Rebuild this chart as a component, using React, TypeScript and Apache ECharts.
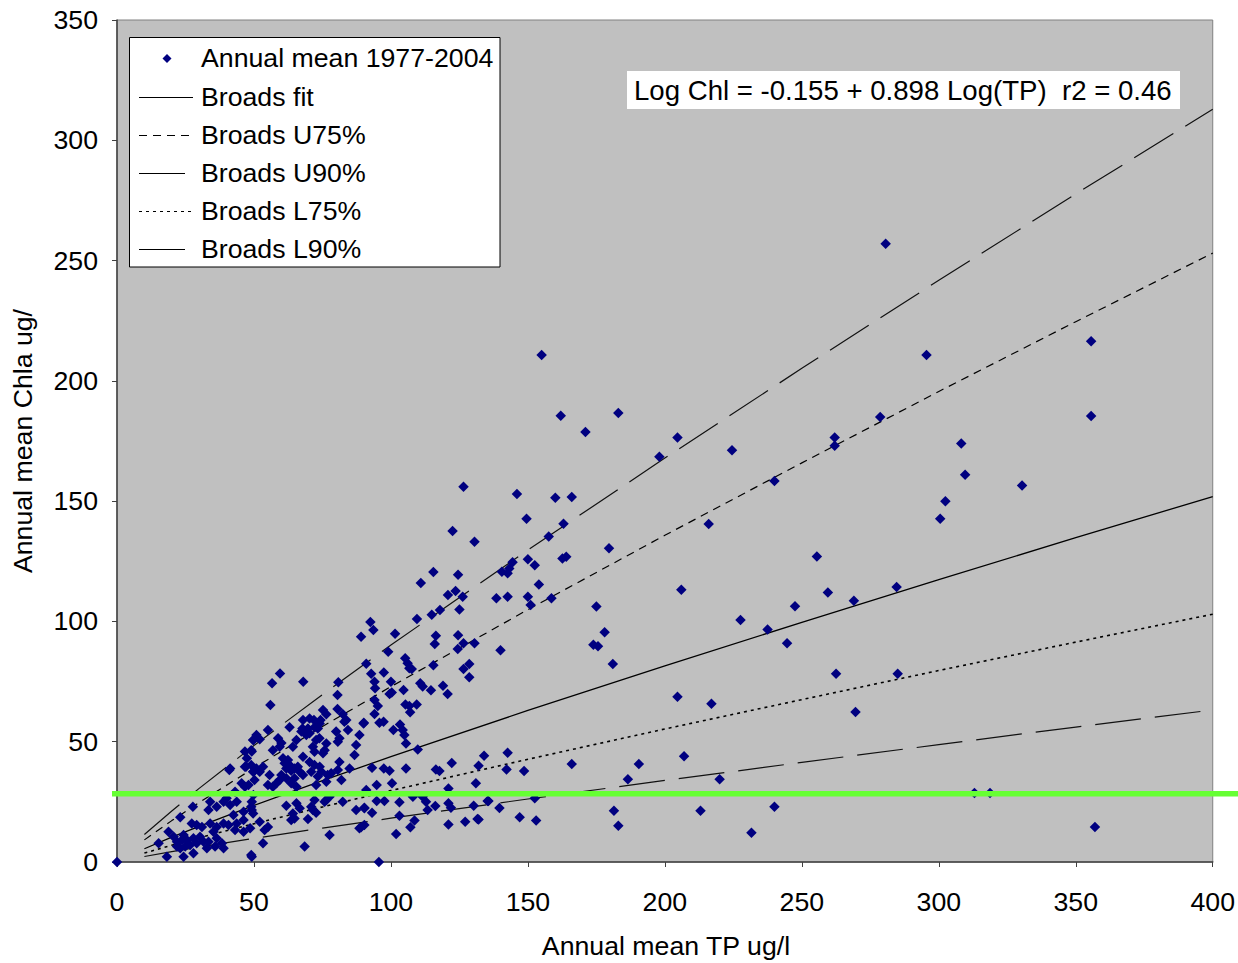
import React, { useEffect, useRef } from "react";
import * as echarts from "echarts";

// ---------- data ----------
const xTicks = [0, 50, 100, 150, 200, 250, 300, 350, 400];
const yTicks = [0, 50, 100, 150, 200, 250, 300, 350];

// Annual mean TP (ug/l) vs annual mean Chla (ug/l), 1977-2004
const annualMean: number[][] = [
  [280.6, 257], [295.5, 210.7], [278.6, 185], [355.6, 216.5], [355.6, 185.4], [308.2, 174], [309.6, 161],
  [302.4, 150], [300.5, 142.7], [330.4, 156.5], [284.6, 114.3], [285, 78.3], [313, 28.7], [318.7, 28.7], [357, 14.5],
  [198, 168.5], [204.6, 176.5], [224.5, 171.2], [262, 176.5], [262, 173], [240, 158.4], [216, 140.5], [255.5, 127],
  [206, 113.2], [259.5, 112], [269, 108.6], [247.5, 106.3], [227.6, 100.6], [237.5, 96.6], [244.6, 90.9], [262.5, 78.3],
  [204.6, 68.7], [217, 65.8], [269.6, 62.3], [190.5, 40.7], [207, 44], [220, 34.4], [213, 21.3], [240, 23], [231.6, 12.2],
  [179.6, 130.4], [150, 125.8], [152.5, 123.4], [162.6, 126.2], [164, 126.9], [144.4, 124.6], [143.2, 122], [142.6, 120],
  [140.5, 120.7], [154, 115.4], [138.5, 109.6], [142.6, 110.3], [150, 110.3], [151, 106.8], [158.6, 109.6], [175, 106.2],
  [178, 95.5], [173.9, 90.3], [175.6, 89.7], [181, 82.3], [140, 88], [134, 44.2], [142.6, 45.4], [142.2, 38.5],
  [148.6, 37.8], [166, 40.7], [186.5, 34.4], [135.6, 25.4], [139.6, 22.4], [152.5, 26.5], [132, 17.7], [147, 18.6],
  [153, 17.2], [181.4, 21.3], [183, 15.1],
  [155, 210.7], [162, 185.5], [171, 178.7], [183, 186.6], [126.5, 156], [146, 153], [160, 151.4], [166, 151.7],
  [149.5, 142.7], [122.5, 137.6], [130.5, 133.1], [157.6, 135.3], [163, 140.6],
  [115.5, 120.5], [124.5, 119.4], [110.9, 116], [120.8, 111], [123.6, 112.6], [126.2, 110.3], [117.9, 104.7], [114.9, 102.8],
  [125, 105], [109.5, 101], [92.5, 99.8], [93.6, 96.4], [89.1, 93.6], [101.5, 94.9], [116.4, 94], [116, 90.6],
  [124.5, 94.3], [126.5, 90.9], [130.5, 90.9], [124.4, 88.5], [99, 87.4], [105.2, 84.7], [106.1, 82.6], [106.7, 80.5],
  [107.6, 80.2], [115.5, 81.8], [128.6, 82.3], [126.5, 80.2], [128.6, 76.8], [91, 82.4], [92.8, 78.3], [97.4, 78.8],
  [94, 74.9], [94.2, 72.2], [100, 74.9], [100.3, 70.5], [99.5, 69.8], [104.6, 71.5], [110.7, 74.3], [111.6, 72.9],
  [114.6, 71.4], [119, 73.3], [120.7, 69.8], [94, 67.3], [95.2, 64.8], [94, 61.5], [105.3, 65.5], [106.7, 64.8],
  [109.4, 65.5], [107, 62.2], [90.1, 57.9], [88.5, 52.8], [95.8, 57.9], [97.3, 58.3], [100.9, 54.9], [103.3, 57.2],
  [104.3, 54.9], [104.9, 52.8], [105.5, 49.3], [109.8, 46.8], [93.1, 39.2], [97.4, 38.9], [99.5, 37.9], [105.5, 38.9],
  [116.4, 38.5], [117.7, 37.8], [122.2, 41.2], [132, 40], [131, 32.7], [100.4, 32.7], [121, 30.6], [94.8, 32],
  [91, 29.9], [108, 27.1], [111.6, 27.1], [94.8, 25.4], [97.6, 25.4], [103.1, 24.8], [112.8, 25], [113.4, 21.6],
  [116.2, 23.3], [121, 24.4], [121.9, 22.6], [130.2, 23.4], [135.3, 25.4], [90.3, 22.6], [93.1, 20.5], [103.1, 19.2],
  [108.6, 17.2], [107.1, 14.4], [121, 15.6], [127.1, 16.7], [131.6, 17.9], [89.1, 14.4], [101.9, 11.6], [95.6, 0],
  [59.5, 78.4], [56.6, 74.3], [68, 74.9], [80.8, 74.7], [56, 65.3], [80.5, 69.4], [80.5, 63.6], [82.4, 61.5],
  [83.7, 59], [75.2, 63.2], [76.4, 61.4], [74.3, 59], [67.9, 59], [70.3, 59.7], [71.9, 59], [74, 57.6],
  [73.3, 55.5], [72.1, 56], [69.7, 55.5], [67.7, 55.5], [67.3, 54.2], [69.1, 52.8], [70.3, 53.5], [63, 56],
  [55.1, 54.9], [90, 57.6], [83, 58.3], [84.3, 54.9], [80, 54.2], [81.2, 51.4], [80.6, 50], [87.3, 48.6],
  [86.7, 44.5], [76.4, 49.3], [75.8, 46.5], [75.2, 45.2], [72.7, 50.7], [73.9, 51.4], [71.5, 47.9], [72.1, 45.8],
  [65.5, 50.7], [64.2, 47.9], [58.8, 51.4], [59.4, 47.9], [60, 49.5], [56.9, 46.5], [50.9, 52.8], [49.7, 50.7],
  [52.1, 51], [49, 46.5], [67.9, 43.8], [60.6, 43.1], [62.4, 42.4], [61.2, 41], [63, 40.3], [61.8, 38.9],
  [63.6, 37.9], [64.8, 38.9], [66, 39.6], [66.7, 37.5], [67.9, 36.2], [70.3, 41.6], [72.1, 40.3], [74, 39.6],
  [74.6, 37.5], [70.9, 37.5], [73.3, 35.5], [76.9, 36.2], [76.4, 33.4], [81.2, 41.6], [84.9, 38.9], [80.6, 38.2],
  [81.9, 34.1], [78.2, 36.9], [53.3, 39.6], [52.1, 37.5], [50.9, 38.9], [49, 40.3], [49.7, 37.5], [55.7, 36.2],
  [55.1, 32], [56.9, 31.3], [58.2, 32.7], [59.4, 34.1], [60, 36.2], [61.8, 34.8], [63.6, 32.7], [65.5, 31.3],
  [64.8, 34.8], [72.7, 32], [77.6, 27.1], [72.1, 25.8], [70.9, 23], [71.5, 21.6], [72.7, 20.5], [75.8, 25],
  [76.4, 25.8], [65.5, 24.4], [66.7, 22.3], [64.2, 20.2], [63.6, 17.5], [64.8, 18.1], [61.8, 23.4], [69.7, 17.9],
  [82.4, 25], [87.3, 21.6], [90.3, 22.3], [88.5, 14], [90.3, 15.4], [77.6, 11.2], [68.5, 6.4], [49, 23],
  [49.7, 20.2], [52.1, 16.7], [53.9, 13.3], [55.1, 14.6], [53.3, 7.8], [49, 2.9], [50.2, 34.1],
  [41, 38.2], [47.1, 39.6], [49.8, 37.5], [45.5, 32.7], [46.7, 31.3], [48, 32], [43.1, 29.2], [40, 26.5],
  [49.8, 27.8], [49.2, 25], [34, 25], [36.4, 23], [33.4, 21.6], [27.7, 23], [38.9, 25], [41.3, 23.7],
  [43.7, 25], [46.2, 20.9], [49.2, 21.6], [23.1, 18.6], [18.8, 12.6], [27.3, 16], [29.1, 15.4], [31, 14.6],
  [34, 16], [36.4, 14.6], [35.2, 12.6], [38.9, 16], [40.7, 15.4], [42.5, 19.5], [43.7, 16], [46.2, 17.5],
  [43.1, 13.3], [46.2, 12.6], [48.6, 14], [20.7, 10.5], [21.9, 8.4], [23.7, 9.1], [24.3, 11.2], [25.5, 9.1],
  [26.7, 7.1], [27.9, 9.9], [29.1, 7.8], [30.3, 10.5], [31.6, 8.4], [24.9, 6.4], [23.1, 5.7], [21.9, 6.4],
  [15.2, 7.8], [18.2, 2.2], [24.3, 2.2], [27.9, 3.6], [33.4, 8.4], [36.4, 9.9], [38.3, 7.8], [35.8, 6.4],
  [38.9, 5.7], [32.8, 5.7], [49.2, 2.2], [0, 0],
  [49.8, 50.7], [46.7, 45.9], [49.2, 45.9], [47.4, 43.1], [41.3, 38.9], [46.7, 39.6],
];

// Broads regression lines (TP points and Chla values)
const lineTP = [10, 20, 30, 50, 75, 100, 150, 200, 250, 300, 350, 400];
const broadsFit = [5.5, 10.3, 14.8, 23.5, 33.8, 43.8, 63.0, 81.5, 99.6, 117.4, 134.8, 151.9];
const broadsU75 = [9.2, 17.2, 24.7, 39.1, 56.3, 72.9, 104.9, 135.8, 165.9, 195.6, 224.6, 253.1];
const broadsU90 = [11.4, 21.2, 30.6, 48.4, 69.6, 90.2, 129.7, 167.9, 205.2, 241.8, 277.7, 312.9];
const broadsL75 = [3.7, 7.0, 10.1, 15.9, 22.9, 29.7, 42.7, 55.3, 67.5, 79.6, 91.4, 103.0];
const broadsL90 = [2.3, 4.3, 6.2, 9.8, 14.1, 18.2, 26.2, 33.9, 41.4, 48.8, 56.1, 63.2];

const greenLevel = 28.5;

const legendNames = [
  "Annual mean 1977-2004",
  "Broads fit",
  "Broads U75%",
  "Broads U90%",
  "Broads L75%",
  "Broads L90%",
];
const equationText = "Log Chl = -0.155 + 0.898 Log(TP)  r2 = 0.46";
const xTitle = "Annual mean TP ug/l";
const yTitle = "Annual mean Chla ug/";

// ---------- styles ----------
const FONT = "'Liberation Sans', Arial, sans-serif";
const FS = 26.7;
const dashFit: any = "solid";
const dashU75 = [8, 6];
const dashU90 = [46, 14];
const dashL75 = [3, 4];
const dashL90 = [46, 14];

function pairs(ys: number[]) {
  return lineTP.map((t, i) => [t, ys[i]]);
}

function buildOption(greenY: number | null) {
  const lineSeries = (name: string, ys: number[], dash: any, color = "#000", width = 1.2) => ({
    name,
    type: "line",
    data: pairs(ys),
    showSymbol: false,
    symbol: "none",
    smooth: false,
    lineStyle: { color, width, type: dash },
    z: 3,
    silent: true,
  });

  const rowY = [57.5, 96.5, 134.5, 173, 211, 249];
  const legendX1 = 139;
  const legendX2 = 193;
  const legendLines = [
    { y: rowY[1], dash: null },
    { y: rowY[2], dash: dashU75 },
    { y: rowY[3], dash: dashU90 },
    { y: rowY[4], dash: dashL75 },
    { y: rowY[5], dash: dashL90 },
  ];

  const graphics: any[] = [
    {
      type: "rect",
      z: 100,
      shape: { x: 129.5, y: 37.5, width: 370.5, height: 229.5 },
      style: { fill: "#fff", stroke: "#000", lineWidth: 1 },
    },
    {
      type: "polygon",
      z: 101,
      shape: { points: [[167, 54], [171.5, 58.5], [167, 63], [162.5, 58.5]] },
      style: { fill: "#000080" },
    },
    ...legendLines.map((l) => ({
      type: "line",
      z: 101,
      shape: { x1: legendX1, y1: Math.round(l.y) + 0.5, x2: legendX2, y2: Math.round(l.y) + 0.5 },
      style: { stroke: "#000", lineWidth: 1, lineDash: l.dash || undefined },
    })),
    ...legendNames.map((n, i) => ({
      type: "text",
      z: 101,
      x: 201,
      y: rowY[i],
      style: {
        text: n,
        fontSize: FS,
        fontFamily: FONT,
        fill: "#000",
        textAlign: "left",
        textVerticalAlign: "middle",
      },
    })),
    {
      type: "rect",
      z: 100,
      shape: { x: 627, y: 71, width: 553, height: 38 },
      style: { fill: "#fff" },
    },
    {
      type: "text",
      z: 101,
      x: 634,
      y: 90,
      style: {
        text: equationText,
        fontSize: 27.6,
        fontFamily: FONT,
        fill: "#000",
        textAlign: "left",
        textVerticalAlign: "middle",
      },
    },
    {
      type: "text",
      x: 666,
      y: 946,
      style: {
        text: xTitle,
        fontSize: FS,
        fontFamily: FONT,
        fill: "#000",
        textAlign: "center",
        textVerticalAlign: "middle",
      },
    },
    {
      type: "text",
      x: 23,
      y: 441,
      rotation: Math.PI / 2,
      style: {
        text: yTitle,
        fontSize: FS,
        fontFamily: FONT,
        fill: "#000",
        textAlign: "center",
        textVerticalAlign: "middle",
      },
    },
  ];

  if (greenY !== null) {
    graphics.push({
      type: "rect",
      z: 50,
      shape: { x: 112, y: greenY - 2.5, width: 1126, height: 5.5 },
      style: { fill: "#66FF33" },
    });
  }

  const axisCommon = {
    type: "value",
    splitLine: { show: false },
    axisLine: { show: true, onZero: false, lineStyle: { color: "#404040", width: 1.5 } },
    axisTick: { show: true, inside: false, length: 5, lineStyle: { color: "#404040", width: 1 } },
    axisLabel: { fontSize: FS, fontFamily: FONT, color: "#000" },
  };

  return {
    animation: false,
    backgroundColor: "#fff",
    grid: {
      left: 117,
      right: 22,
      top: 20,
      bottom: 101,
      show: true,
      backgroundColor: "#C0C0C0",
      borderColor: "#808080",
      borderWidth: 1,
      containLabel: false,
    },
    xAxis: {
      ...axisCommon,
      min: xTicks[0],
      max: xTicks[xTicks.length - 1],
      interval: xTicks[1] - xTicks[0],
      axisLabel: { ...axisCommon.axisLabel, margin: 26, verticalAlign: "top" },
    },
    yAxis: {
      ...axisCommon,
      min: yTicks[0],
      max: yTicks[yTicks.length - 1],
      interval: yTicks[1] - yTicks[0],
      axisLabel: { ...axisCommon.axisLabel, margin: 19 },
    },
    series: [
      {
        name: legendNames[0],
        type: "scatter",
        data: annualMean,
        symbol: "diamond",
        symbolSize: 10.5,
        itemStyle: { color: "#000080", opacity: 1 },
        z: 4,
        silent: true,
      },
      lineSeries(legendNames[1], broadsFit, dashFit, "#000", 1.3),
      lineSeries(legendNames[2], broadsU75, dashU75),
      lineSeries(legendNames[3], broadsU90, dashU90, "#111"),
      lineSeries(legendNames[4], broadsL75, dashL75, "#000", 1.6),
      lineSeries(legendNames[5], broadsL90, dashL90, "#111"),
    ],
    graphic: { elements: graphics },
  };
}

export default function App() {
  const ref = useRef<HTMLDivElement>(null);
  useEffect(() => {
    if (!ref.current) return;
    const chart = echarts.init(ref.current, undefined, { renderer: "svg" });
    chart.setOption(buildOption(null) as any);
    const gy = chart.convertToPixel({ yAxisIndex: 0 }, greenLevel) as number;
    chart.setOption(buildOption(gy) as any, { notMerge: true });
    return () => chart.dispose();
  }, []);
  return (
    <div
      ref={ref}
      style={{ position: "absolute", left: 0, top: 0, width: 1238, height: 963 }}
    />
  );
}
